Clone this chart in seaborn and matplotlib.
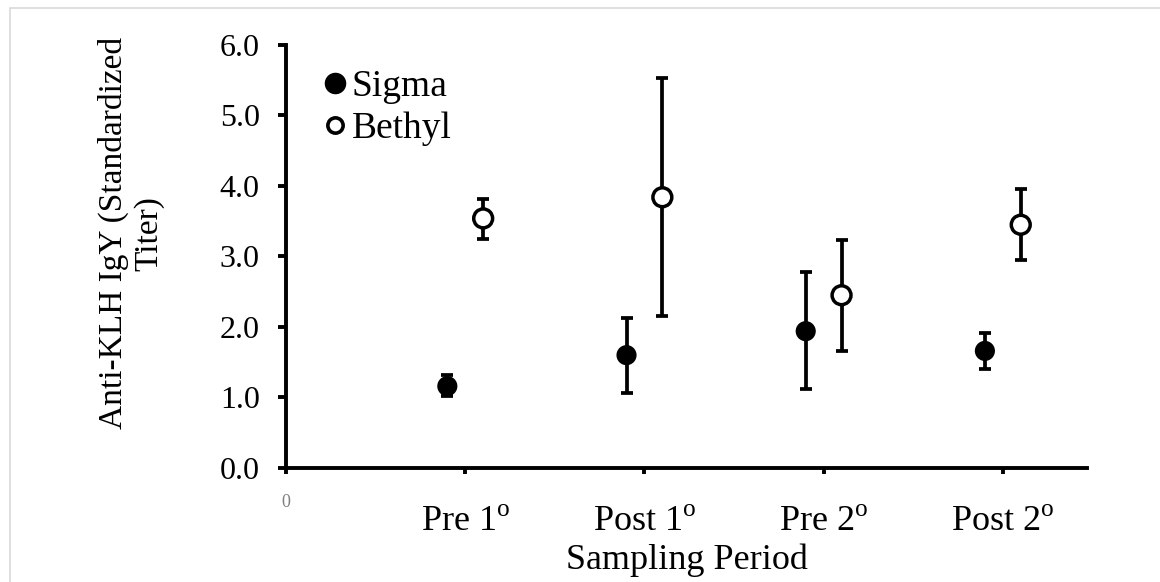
import matplotlib
matplotlib.use("Agg")
import matplotlib.pyplot as plt
import pandas as pd
import seaborn as sns

periods = ["Pre 1$^{\\mathrm{o}}$", "Post 1$^{\\mathrm{o}}$", "Pre 2$^{\\mathrm{o}}$", "Post 2$^{\\mathrm{o}}$"]
group_pos = [1, 2, 3, 4]

sigma_mean = [1.16, 1.60, 1.94, 1.66]
sigma_low = [1.02, 1.06, 1.12, 1.40]
sigma_high = [1.32, 2.13, 2.78, 1.91]

bethyl_mean = [3.54, 3.84, 2.45, 3.45]
bethyl_low = [3.25, 2.16, 1.66, 2.95]
bethyl_high = [3.82, 5.53, 3.23, 3.96]

sns.set_style("ticks")
plt.rcParams["font.family"] = ["Liberation Serif", "DejaVu Serif"]
plt.rcParams["mathtext.fontset"] = "custom"
plt.rcParams["mathtext.rm"] = "Liberation Serif"
for key in ["text.color", "axes.edgecolor", "axes.labelcolor", "xtick.color", "ytick.color"]:
    plt.rcParams[key] = "black"

rows = []
for i, p in enumerate(group_pos):
    rows.append({"x": p - 0.1, "y": sigma_mean[i], "lo": sigma_low[i], "hi": sigma_high[i], "series": "Sigma"})
    rows.append({"x": p + 0.1, "y": bethyl_mean[i], "lo": bethyl_low[i], "hi": bethyl_high[i], "series": "Bethyl"})
df = pd.DataFrame(rows)

fig = plt.figure(figsize=(11.6, 5.82), dpi=100)
ax = fig.add_axes([0.2466, 0.196, 0.6905, 0.7267])

# error bars first so the open markers sit on top
ax.errorbar(
    df["x"], df["y"],
    yerr=[df["y"] - df["lo"], df["hi"] - df["y"]],
    fmt="none", ecolor="black", elinewidth=2.7, capsize=4.5, capthick=2.7, zorder=2,
)

sns.scatterplot(
    data=df, x="x", y="y", hue="series",
    palette={"Sigma": "black", "Bethyl": "black"},
    s=200, linewidth=0, ax=ax, zorder=3, legend=False,
)
# make Bethyl hollow
coll = ax.collections[-1]
coll.set_facecolors(["black" if s == "Sigma" else "white" for s in df["series"]])
coll.set_edgecolors("black")
coll.set_linewidths([0 if s == "Sigma" else 2.5 for s in df["series"]])
coll.set_sizes([210 if s == "Sigma" else 185 for s in df["series"]])

h1 = plt.Line2D([], [], marker="o", color="black", linestyle="none", markersize=14.5)
h2 = plt.Line2D([], [], marker="o", markerfacecolor="white", markeredgecolor="black",
                markeredgewidth=2.6, linestyle="none", markersize=11)
ax.legend([h1, h2], ["Sigma", "Bethyl"], loc="upper left", bbox_to_anchor=(0.028, 0.978),
          frameon=False, fontsize=27, handlelength=0.6, handletextpad=0.15,
          labelspacing=0.2, borderaxespad=0)

ax.set_xlim(0, 4.47)
ax.set_ylim(0, 6)
ax.set_yticks([0, 1, 2, 3, 4, 5, 6])
ax.set_yticklabels([f"{v:.1f}" for v in range(7)])
ax.set_xticks(group_pos, labels=periods)
ax.set_xticks([0], labels=["0"], minor=True)

for s in ["top", "right"]:
    ax.spines[s].set_visible(False)
for s in ["left", "bottom"]:
    ax.spines[s].set_linewidth(2.8)

ax.tick_params(axis="y", direction="out", length=6, width=2.8, labelsize=23, pad=13)
ax.tick_params(axis="x", which="major", direction="out", length=4.5, width=2.8, labelsize=26, pad=23)
ax.tick_params(axis="x", which="minor", direction="out", length=4.5, width=2.8, labelsize=13,
               pad=14, labelcolor="#7f7f7f")

ax.set_xlabel("Sampling Period", fontsize=26, labelpad=3)
ax.set_ylabel("Anti-KLH IgY (Standardized\nTiter)", fontsize=24)
ax.yaxis.set_label_coords(-0.152, 0.555)

# light chart border
fig.add_artist(plt.Rectangle((10 / 1160, -0.1), 1.2, 1 - 8 / 582 + 0.1, transform=fig.transFigure,
                             fill=False, edgecolor="#d9d9d9", linewidth=1.2))

fig.savefig("out.png", dpi=100)
